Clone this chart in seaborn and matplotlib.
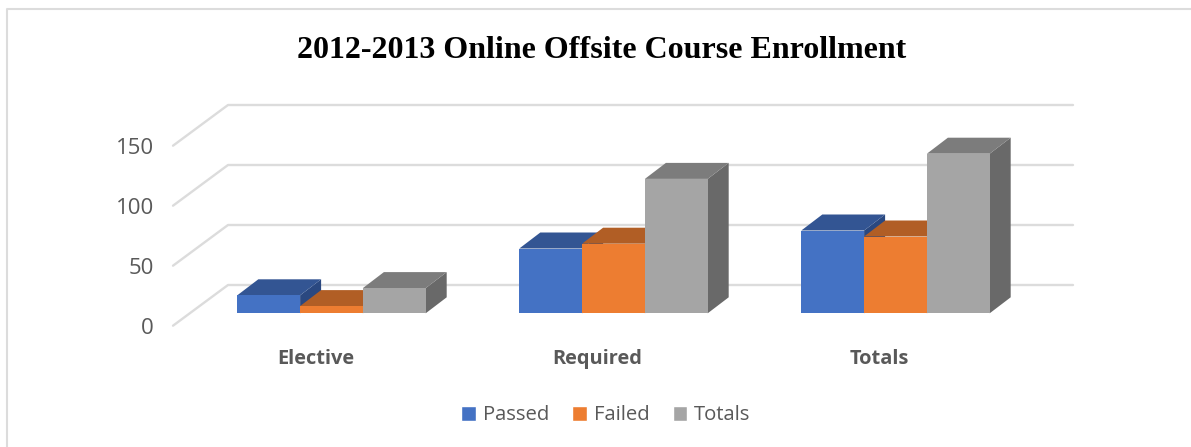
"""2012-2013 online offsite enrollment, drawn as a faux 3D clustered bar chart."""
import matplotlib
matplotlib.use("Agg")
import matplotlib.pyplot as plt
import matplotlib.transforms as mtrans
from matplotlib.lines import Line2D
from matplotlib.patches import Polygon
import pandas as pd
import seaborn as sns

categories = ["Elective", "Required", "Totals"]
passed = [15, 54, 69]
failed = [6, 58, 64]
totals = [21, 112, 133]
y_ticks = [0, 50, 100, 150]

W, H = 1191, 447
FRONT = ["#4472C4", "#ED7D31", "#A5A5A5"]
TOP = ["#335593", "#B15E25", "#7C7C7C"]
SIDE = ["#2A4880", "#984F1F", "#696969"]
TEXT = "#595959"
GRID = "#DCDCDC"

sns.set_theme(style="white")
plt.rcParams["font.family"] = ["Open Sans", "DejaVu Sans"]

df = pd.DataFrame({
    "category": categories * 3,
    "series": ["Passed"] * 3 + ["Failed"] * 3 + ["Totals"] * 3,
    "value": passed + failed + totals,
})

fig = plt.figure(figsize=(W / 100, H / 100), dpi=100, facecolor="white")
left, right, top, bottom = 190.5, 1036.5, 133.3, 313.3
ax = fig.add_axes([left / W, 1 - bottom / H, (right - left) / W, (bottom - top) / H])

sns.barplot(
    data=df, x="category", y="value", hue="series", palette=FRONT,
    width=0.668, saturation=1, ax=ax,
)
ax.set_xlim(-0.5, 2.5)
ax.set_ylim(0, 150)
ax.set_xlabel("")
ax.set_ylabel("")
ax.set_yticks(y_ticks)
sns.despine(ax=ax, left=True, bottom=True)
ax.patch.set_visible(False)
ax.tick_params(axis="both", length=0)
ax.tick_params(axis="y", pad=0, labelsize=16, labelcolor=TEXT)
ax.tick_params(axis="x", pad=25.5, labelsize=14.4, labelcolor=TEXT)


def nudge(labels, dx, dy):
    shift = mtrans.ScaledTranslation(dx / 100, dy / 100, fig.dpi_scale_trans)
    for lab in labels:
        lab.set_transform(lab.get_transform() + shift)


nudge(ax.get_yticklabels(), -36.5, -13)
nudge(ax.get_xticklabels(), -16, 0)
for lab in ax.get_xticklabels():
    lab.set_fontweight("bold")

# floor and back wall lines, offset from the bar plane in pixels
blend = ax.get_yaxis_transform()
for v in y_ticks:
    front = mtrans.offset_copy(blend, fig, x=-17.5, y=-12.4, units="dots")
    back = mtrans.offset_copy(blend, fig, x=37.5, y=28.3, units="dots")
    back_r = mtrans.offset_copy(blend, fig, x=36.5, y=28.3, units="dots")
    p0 = front.transform((0, v))
    p1 = back.transform((0, v))
    p2 = back_r.transform((1, v))
    ax.add_line(Line2D([p0[0], p1[0], p2[0]], [p0[1], p1[1], p2[1]], color=GRID,
                       lw=1.7, transform=None, clip_on=False, zorder=0.5))

# depth of each bar in data units
depth_x = 21 / 282
depth_y = 16 / 1.2

bars = []
for i, cont in enumerate(ax.containers):
    for bar in cont:
        bars.append((bar, i))
bars.sort(key=lambda b: b[0].get_x())

z = 2
for bar, i in bars:
    x0 = bar.get_x()
    x1 = x0 + bar.get_width()
    h = bar.get_height()
    side = Polygon([(x1, 0), (x1 + depth_x, depth_y), (x1 + depth_x, h + depth_y), (x1, h)],
                   fc=SIDE[i], ec="none", clip_on=False, zorder=z)
    lid = Polygon([(x0, h), (x0 + depth_x, h + depth_y), (x1 + depth_x, h + depth_y), (x1, h)],
                  fc=TOP[i], ec="none", clip_on=False, zorder=z + 1)
    ax.add_patch(side)
    ax.add_patch(lid)
    bar.set_zorder(z + 2)
    bar.set_clip_on(False)
    bar.set_edgecolor("none")
    z += 3

sns.move_legend(
    ax, "center", bbox_to_anchor=(606 / W, 1 - 415.5 / H), bbox_transform=fig.transFigure,
    ncol=3, frameon=False, title=None, fontsize=14.6, labelcolor=TEXT,
    handlelength=0.7, handleheight=0.7, handletextpad=0.35, columnspacing=1.15,
    borderpad=0, borderaxespad=0,
)

fig.text(602 / W, 1 - 50 / H, "2012-2013 Online Offsite Course Enrollment",
         family="Liberation Serif", fontweight="bold", fontsize=23, color="black",
         ha="center", va="center")

# chart frame, only top and left show in the crop
fig.add_artist(Line2D([7 / W, 7 / W, 1], [0, 1 - 9 / H, 1 - 9 / H], color=GRID, lw=1.5))

fig.savefig("out.png", dpi=100)
